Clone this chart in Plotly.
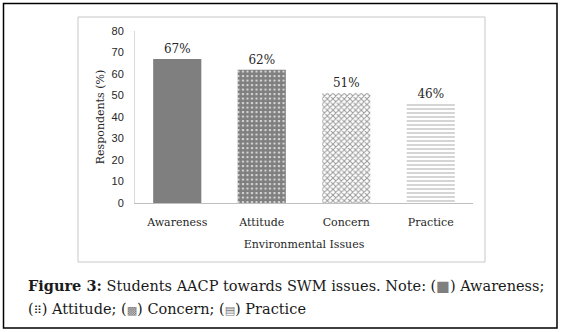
import plotly.graph_objects as go

# Student AACP scores towards solid waste management issues
categories = ["Awareness", "Attitude", "Concern", "Practice"]
respondents = [67, 62, 51, 46]
bar_labels = ["67%", "62%", "51%", "46%"]
y_ticks = [0, 10, 20, 30, 40, 50, 60, 70, 80]

W, H = 563, 332
L, R, T, B = 135, 90, 31, 129
PW, PH = W - L - R, H - T - B


def px(x):
    return (x - L) / PW


def py(y):
    return 1 - (y - T) / PH


SERIF = "DejaVu Serif"
TXT = "#262626"

fills = [
    dict(color="#7f7f7f", pattern=dict(shape="")),
    dict(color="white", pattern=dict(shape=".", fgcolor="black", size=4.5, solidity=0.8)),
    dict(color="white", pattern=dict(shape="x", fgcolor="#333333", size=4, solidity=0.45)),
    dict(color="white", pattern=dict(shape="-", fgcolor="#555555", size=4, solidity=0.25)),
]

fig = go.Figure()
for cat, val, lab, fm in zip(categories, respondents, bar_labels, fills):
    fig.add_trace(go.Bar(
        x=[cat], y=[val], text=[lab], textposition="outside",
        textfont=dict(family=SERIF, size=12, color=TXT),
        marker=dict(color=fm["color"], pattern=fm["pattern"], line=dict(width=0)),
        cliponaxis=False, showlegend=False, width=0.57,
    ))

fig.update_layout(
    width=W, height=H,
    margin=dict(l=L, r=R, t=T, b=B),
    paper_bgcolor="white", plot_bgcolor="white",
    bargap=0.43,
    xaxis=dict(
        categoryorder="array", categoryarray=categories,
        showline=True, linecolor="#bfbfbf", linewidth=1,
        ticks="outside", ticklen=9, tickcolor="rgba(0,0,0,0)",
        tickfont=dict(family=SERIF, size=11, color=TXT),
        title=dict(text="Environmental Issues", font=dict(family=SERIF, size=11, color=TXT), standoff=12),
    ),
    yaxis=dict(
        range=[0, 80], tickvals=y_ticks, showgrid=False, zeroline=False,
        showline=True, linecolor="#d9d9d9", linewidth=1,
        ticks="outside", ticklen=8, tickcolor="rgba(0,0,0,0)",
        tickfont=dict(family="Liberation Sans", size=11, color=TXT),
        title=dict(text="Respondents (%)", font=dict(family=SERIF, size=11, color=TXT), standoff=4),
    ),
    shapes=[
        dict(type="rect", xref="paper", yref="paper",
             x0=px(3.5), x1=px(557), y0=py(3.5), y1=py(328),
             line=dict(color="black", width=1.5), fillcolor="rgba(0,0,0,0)"),
        dict(type="rect", xref="paper", yref="paper",
             x0=px(78), x1=px(485), y0=py(17), y1=py(262),
             line=dict(color="#c8c8c8", width=1), fillcolor="rgba(0,0,0,0)"),
    ],
    annotations=[
        dict(xref="paper", yref="paper", x=px(26), y=py(285), xanchor="left", yanchor="middle",
             showarrow=False, font=dict(family=SERIF, size=14.5, color="#1a1a1a"),
             text="<b>Figure 3:</b> Students AACP towards SWM issues. Note: (<span style='color:#7f7f7f'>■</span>) Awareness;"),
        dict(xref="paper", yref="paper", x=px(26), y=py(309), xanchor="left", yanchor="middle",
             showarrow=False, font=dict(family=SERIF, size=14.5, color="#1a1a1a"),
             text="(<span style='font-family:DejaVu Sans;font-size:11px'>⠿</span>) Attitude; "
                  "(<span style='font-family:DejaVu Sans;font-size:11px;color:#777'>▩</span>) Concern; "
                  "(<span style='font-family:DejaVu Sans;font-size:11px;color:#777'>▤</span>) Practice"),
    ],
)

fig.write_html("out.html")
